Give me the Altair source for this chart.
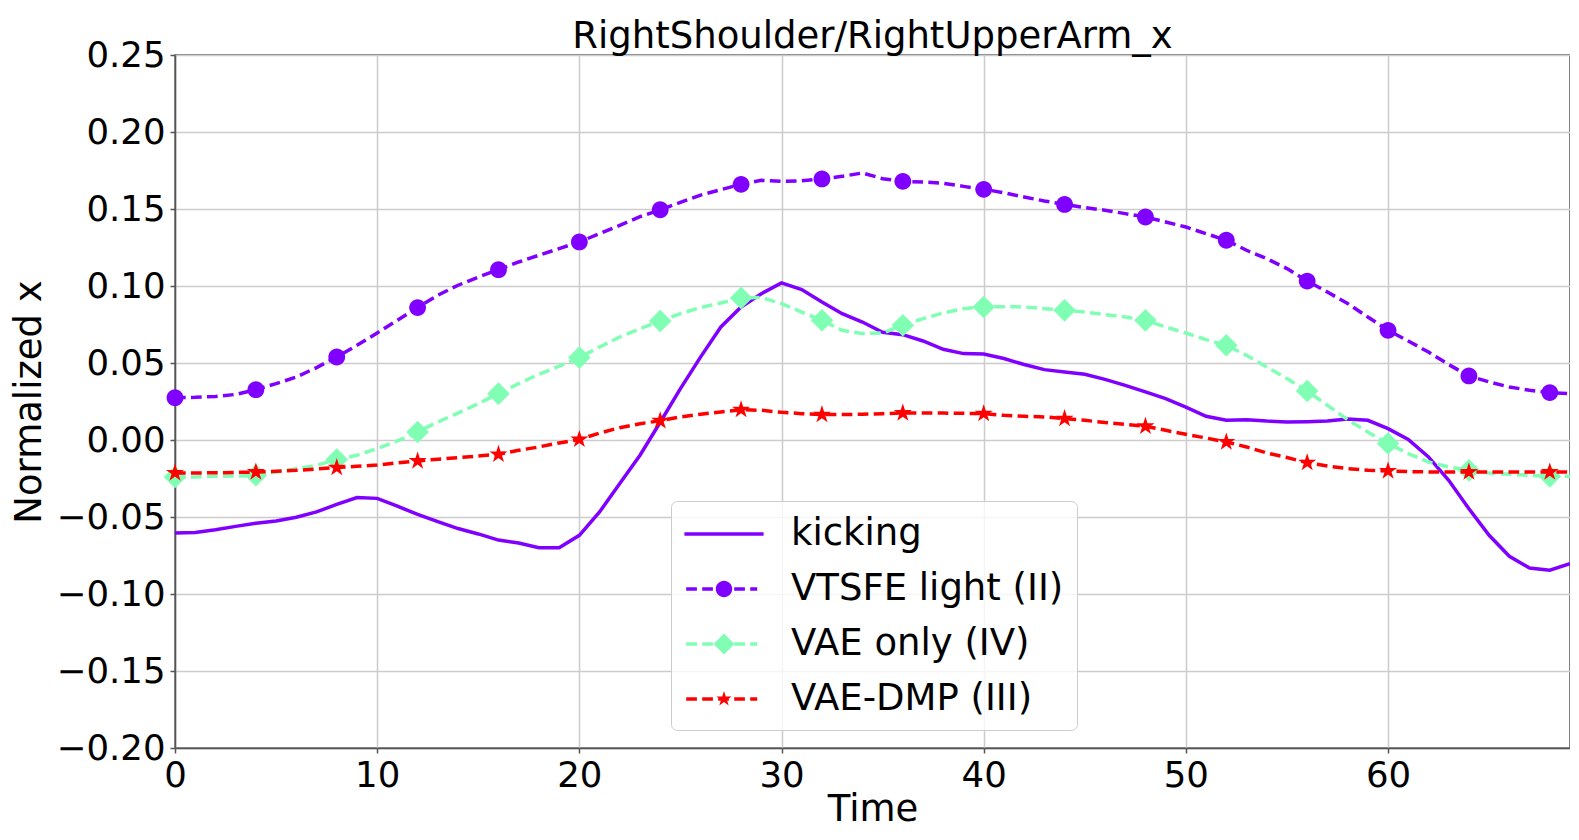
import altair as alt
import pandas as pd

# ---------------- data ----------------
t = list(range(70))

kicking = [-0.0604, -0.0600, -0.0583, -0.0561, -0.0540, -0.0526, -0.0502, -0.0467, -0.0418, -0.0374,
           -0.0379, -0.0430, -0.0483, -0.0530, -0.0575, -0.0610, -0.0650, -0.0669, -0.0700, -0.0700,
           -0.0619, -0.0467, -0.0283, -0.0099, 0.0115, 0.0334, 0.0540, 0.0734, 0.0864, 0.0950,
           0.1020, 0.0977, 0.0896, 0.0820, 0.0766, 0.0700, 0.0684, 0.0643, 0.0589, 0.0561,
           0.0558, 0.0529, 0.0490, 0.0457, 0.0442, 0.0427, 0.0394, 0.0355, 0.0312, 0.0269,
           0.0214, 0.0154, 0.0128, 0.0132, 0.0123, 0.0117, 0.0119, 0.0123, 0.0136, 0.0128,
           0.0074, 0.0003, -0.0110, -0.0262, -0.0446, -0.0619, -0.0755, -0.0831, -0.0846, -0.0803]

vtsfe = [0.0275, 0.0277, 0.0283, 0.0296, 0.0327, 0.0366, 0.0409, 0.0470, 0.0539, 0.0615,
         0.0695, 0.0777, 0.0860, 0.0940, 0.1005, 0.1058, 0.1106, 0.1156, 0.1200, 0.1243,
         0.1286, 0.1340, 0.1394, 0.1450, 0.1495, 0.1543, 0.1590, 0.1626, 0.1660, 0.1686,
         0.1680, 0.1683, 0.1695, 0.1712, 0.1734, 0.1697, 0.1680, 0.1675, 0.1667, 0.1647,
         0.1628, 0.1606, 0.1578, 0.1552, 0.1530, 0.1509, 0.1492, 0.1470, 0.1448, 0.1416,
         0.1383, 0.1340, 0.1297, 0.1232, 0.1178, 0.1113, 0.1032, 0.0961, 0.0886, 0.0799,
         0.0712, 0.0643, 0.0571, 0.0490, 0.0416, 0.0377, 0.0344, 0.0323, 0.0308, 0.0301]

vae_only = [-0.0240, -0.0240, -0.0236, -0.0234, -0.0229, -0.0208, -0.0186, -0.0164, -0.0127, -0.0099,
            -0.0056, -0.0006, 0.0052, 0.0117, 0.0175, 0.0236, 0.0301, 0.0366, 0.0427, 0.0479,
            0.0535, 0.0604, 0.0669, 0.0723, 0.0773, 0.0821, 0.0860, 0.0890, 0.0922, 0.0925,
            0.0886, 0.0831, 0.0777, 0.0712, 0.0691, 0.0695, 0.0745, 0.0788, 0.0825, 0.0853,
            0.0864, 0.0866, 0.0864, 0.0853, 0.0842, 0.0831, 0.0814, 0.0799, 0.0777, 0.0734,
            0.0695, 0.0652, 0.0615, 0.0550, 0.0474, 0.0399, 0.0318, 0.0225, 0.0132, 0.0052,
            -0.0023, -0.0088, -0.0143, -0.0175, -0.0197, -0.0214, -0.0223, -0.0229, -0.0236, -0.0236]

vae_dmp = [-0.0214, -0.0214, -0.0213, -0.0210, -0.0208, -0.0203, -0.0197, -0.0188, -0.0179, -0.0171,
           -0.0162, -0.0149, -0.0136, -0.0125, -0.0114, -0.0104, -0.0093, -0.0067, -0.0045, -0.0019,
           0.0004, 0.0045, 0.0080, 0.0106, 0.0125, 0.0150, 0.0167, 0.0182, 0.0197, 0.0193,
           0.0180, 0.0171, 0.0165, 0.0165, 0.0167, 0.0171, 0.0175, 0.0175, 0.0175, 0.0173,
           0.0171, 0.0160, 0.0154, 0.0150, 0.0139, 0.0128, 0.0113, 0.0102, 0.0089, 0.0063,
           0.0037, 0.0013, -0.0013, -0.0045, -0.0084, -0.0114, -0.0147, -0.0169, -0.0186, -0.0197,
           -0.0201, -0.0205, -0.0207, -0.0208, -0.0208, -0.0208, -0.0208, -0.0208, -0.0208, -0.0208]

series_names = ["kicking", "VTSFE light (II)", "VAE only (IV)", "VAE-DMP (III)"]
series_colors = ["#8000ff", "#8000ff", "#80ffb4", "#ff0000"]
x_ticks = [0, 10, 20, 30, 40, 50, 60]
y_ticks = [-0.20, -0.15, -0.10, -0.05, 0.00, 0.05, 0.10, 0.15, 0.20, 0.25]

rows = []
for name, vals in zip(series_names, [kicking, vtsfe, vae_only, vae_dmp]):
    for ti, v in zip(t, vals):
        rows.append({"t": ti, "value": v, "series": name})
df = pd.DataFrame(rows)

# ---------------- marker geometry ----------------
def fmt(v):
    return f"{v:.4f}".rstrip("0").rstrip(".")

def circle_path(r):
    return f"M{fmt(r)},0A{fmt(r)},{fmt(r)},0,1,1,{fmt(-r)},0A{fmt(r)},{fmt(r)},0,1,1,{fmt(r)},0Z"

def diamond_path(r):
    return f"M0,{fmt(-r)}L{fmt(r)},0L0,{fmt(r)}L{fmt(-r)},0Z"

def star_path(R):
    import math
    pts = []
    for k in range(10):
        ang = math.radians(-90 + 36 * k)
        rad = R if k % 2 == 0 else R * 0.381966
        pts.append((rad * math.cos(ang), rad * math.sin(ang)))
    return "M" + "L".join(f"{fmt(x)},{fmt(y)}" for x, y in pts) + "Z"

def rects(segs, h):
    return "".join(f"M{fmt(a)},{fmt(-h)}H{fmt(b)}V{fmt(h)}H{fmt(a)}Z" for a, b in segs)

LINE_W = 3.5
DASH = [10.7, 5.3]

# chart markers: size 400 -> 1 unit = 10 px
MARK_SIZE = 400
chart_markers = {
    "VTSFE light (II)": circle_path(0.84),
    "VAE only (IV)": diamond_path(1.13),
    "VAE-DMP (III)": star_path(0.95),
}

# legend symbols: size 1600 -> 1 unit = 20 px (line + marker drawn as fills)
LEG_SIZE = 1600
h = LINE_W / 40.0
dash_segs = [(-1.89, -1.355), (-1.09, -0.555), (-0.29, 0.245), (0.51, 1.045), (1.31, 1.66)]
legend_paths = [
    rects([(-1.98, 1.98)], h),
    rects(dash_segs, h) + circle_path(0.41),
    rects(dash_segs, h) + diamond_path(0.52),
    rects(dash_segs, h) + star_path(0.40),
]

FONT = "DejaVu Sans"

x_enc = alt.X("t:Q", scale=alt.Scale(domain=[0, 69], nice=False, zero=False),
              axis=alt.Axis(values=x_ticks, format="d", title="Time", labelFlush=False))
y_enc = alt.Y("value:Q", scale=alt.Scale(domain=[-0.20, 0.25], nice=False, zero=False),
              axis=alt.Axis(values=y_ticks, format=".2f", title="Normalized x", labelFlush=False))

base = alt.Chart(df)
layers = []
for name, col in zip(series_names, series_colors):
    sel = base.transform_filter(alt.datum.series == name)
    if name == "kicking":
        layers.append(sel.mark_line(color=col, strokeWidth=LINE_W).encode(x=x_enc, y=y_enc))
    else:
        layers.append(sel.mark_line(color=col, strokeWidth=LINE_W, strokeDash=DASH).encode(x=x_enc, y=y_enc))
        layers.append(
            base.transform_filter(f"datum.series == '{name}' && datum.t % 4 == 0")
            .mark_point(shape=chart_markers[name], filled=True, size=MARK_SIZE, color=col,
                        opacity=1, strokeWidth=0)
            .encode(x=x_enc, y=y_enc)
        )

leg = alt.Legend(
    title=None, orient="none", legendX=496, legendY=446,
    labelFont=FONT, labelFontSize=37, labelColor="black", labelLimit=500,
    symbolSize=LEG_SIZE, symbolStrokeWidth=0, symbolOffset=20, labelOffset=47,
    rowPadding=17, padding=13, fillColor="rgba(255,255,255,0.8)",
    strokeColor="#cccccc", cornerRadius=6,
)

legend_layer = (
    base.transform_filter("false")
    .mark_point(filled=True, opacity=1, strokeWidth=0, size=LEG_SIZE)
    .encode(
        color=alt.Color("series:N", scale=alt.Scale(domain=series_names, range=series_colors), legend=leg),
        shape=alt.Shape("series:N", scale=alt.Scale(domain=series_names, range=legend_paths), legend=leg),
    )
)
layers.append(legend_layer)

chart = (
    alt.layer(*layers)
    .properties(
        width=1395, height=693,
        autosize=alt.AutoSizeParams(type="none"),
        padding={"left": 167, "top": 47, "right": 0, "bottom": 84},
        title=alt.Title("RightShoulder/RightUpperArm_x", font=FONT, fontSize=37,
                        fontWeight="normal", color="black", anchor="middle", offset=-18),
        background="white",
    )
    .configure_view(stroke="#555555", strokeWidth=1.5)
    .configure_axis(
        labelFont=FONT, labelFontSize=35.5, labelColor="black",
        titleFont=FONT, titleFontSize=37, titleFontWeight="normal", titleColor="black",
        grid=True, gridColor="#cccccc", gridWidth=1.5,
        domainColor="#555555", domainWidth=1.5,
        tickColor="#555555", tickWidth=1.5, tickSize=5,
        labelPadding=5,
    )
    .configure_axisY(titlePadding=8)
    .configure_axisX(titlePadding=-2)
)

chart.save("out.html", embed_options={"renderer": "svg", "actions": False})
